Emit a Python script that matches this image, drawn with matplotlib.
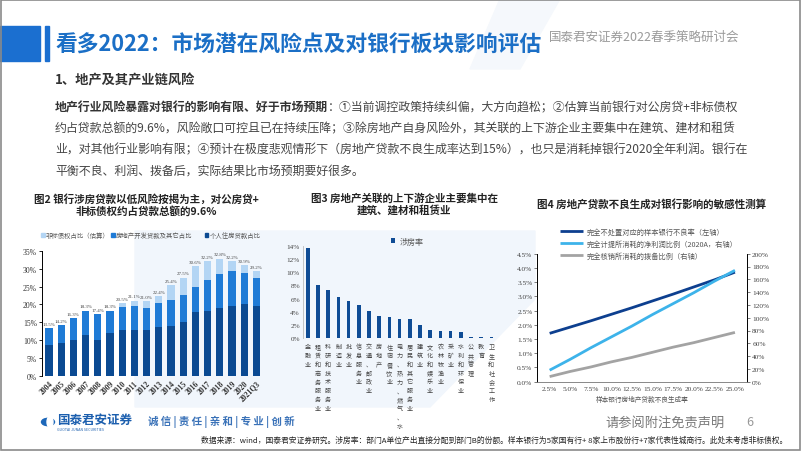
import matplotlib
matplotlib.use("Agg")
import matplotlib.pyplot as plt
from matplotlib.patches import Rectangle, Polygon, Circle, Ellipse

W, H = 802, 452

CJK = ["Noto Sans CJK SC", "DejaVu Sans"]
SERIF = ["Liberation Serif", "Noto Sans CJK SC"]
plt.rcParams["font.family"] = CJK

# ---- chart 2 data: share of bank loans linked to real estate (%)
years = ["2004", "2005", "2006", "2007", "2008", "2009", "2010", "2011", "2012",
         "2013", "2014", "2015", "2016", "2017", "2018", "2019", "2020", "2021Q3"]
personal_loans = [8.8, 9.3, 10.1, 11.5, 10.0, 12.0, 13.0, 13.0, 13.0,
                  13.6, 14.0, 15.0, 18.0, 18.3, 19.0, 19.7, 20.0, 19.7]
developer_loans = [4.7, 4.9, 6.2, 6.8, 7.4, 6.3, 6.4, 6.7, 6.1,
                   6.7, 7.3, 7.5, 7.0, 8.5, 9.5, 9.5, 8.8, 7.7]
nonstandard = [0, 0, 0, 0, 0, 0, 1.1, 1.4, 1.9,
               2.1, 4.1, 5.0, 5.6, 5.4, 4.3, 3.0, 2.1, 1.8]
total_labels = ["13.5%", "14.2%", "16.3%", "18.3%", "17.4%", "18.3%", "20.5%", "21.1%", "21.0%",
                "22.4%", "25.4%", "27.5%", "30.6%", "32.2%", "32.8%", "32.2%", "30.9%", "29.2%"]

# ---- chart 3 data: 涉房率 by industry (%)
industries = ["金融业", "租赁和商务服务业", "科研和技术服务业", "制造业", "批发业", "信息服务业",
              "交通、邮政业", "房地产", "住宿餐饮业", "电力、热力、燃气、水", "居民和其它服务业",
              "建筑业", "文化和娱乐业", "农林牧渔业", "采矿业", "水利和环保业", "公共管理",
              "教育", "卫生和社会工作"]
housing_rate = [13.8, 8.0, 7.3, 6.3, 5.6, 5.0, 4.1, 3.3, 3.1, 2.8, 2.8,
                2.0, 1.2, 1.1, 1.1, 0.9, 0.1, 0.1, 0.1]

# ---- chart 4 data: sensitivity to NPL generation rate
npl_gen = ["2.5%", "5.0%", "7.5%", "10.0%", "12.5%", "15.0%", "17.5%", "20.0%", "22.5%", "25.0%"]
npl_ratio = [1.70, 1.92, 2.14, 2.37, 2.60, 2.84, 3.08, 3.33, 3.58, 3.85]
profit_used = [18, 35, 53, 70, 87, 105, 122, 139, 157, 174]
provision_used = [8, 16, 23, 31, 38, 46, 54, 61, 69, 77]


def fx(x):
    return x / W


def fy(y):
    return 1 - y / H


def axes_px(left, top, right, bottom):
    return fig.add_axes([fx(left), fy(bottom), (right - left) / W, (bottom - top) / H])


fig = plt.figure(figsize=(W / 100, H / 100), dpi=100)

# background decoration
fig.patches.append(Polygon([(fx(135), fy(232)), (fx(535), fy(232)), (fx(535), fy(300)),
                            (fx(430), fy(408)), (fx(135), fy(408))],
                           closed=True, transform=fig.transFigure, color="#f1f6fc", zorder=-5))
fig.patches.append(Polygon([(fx(500), fy(0)), (fx(560), fy(0)), (fx(520), fy(70)), (fx(470), fy(70))],
                           closed=True, transform=fig.transFigure, color="#f5f8fc", zorder=-5))
fig.patches.append(Rectangle((0.001, 0.002), 0.997, 0.995, transform=fig.transFigure,
                             fill=False, edgecolor="#8a8a8a", lw=1.2, zorder=10))

# title block
fig.patches.append(Rectangle((fx(0), fy(62)), fx(40), 35 / H, transform=fig.transFigure,
                             color="#1b6fd0", zorder=2))
fig.patches.append(Rectangle((fx(45), fy(62)), fx(4), 35 / H, transform=fig.transFigure,
                             color="#1b6fd0", zorder=2))
fig.text(fx(55), fy(45), "看多2022：市场潜在风险点及对银行板块影响评估", fontsize=15.7,
         fontweight="bold", color="#1b6fc6", va="center", ha="left")
fig.text(fx(549), fy(37), "国泰君安证券2022春季策略研讨会", fontsize=9,
         color="#9a9a9a", va="center", ha="left")
fig.text(fx(55), fy(80), "1、地产及其产业链风险", fontsize=9.5, fontweight="bold",
         color="#333333", va="center", ha="left")

# body paragraph
body_color = "#454545"
bold_part = fig.text(fx(55), fy(108), "地产行业风险暴露对银行的影响有限、好于市场预期",
                     fontsize=8.6, fontweight="bold", color="#333333", va="center", ha="left")
fig.canvas.draw()
bold_end = bold_part.get_window_extent().x1
fig.text(bold_end / W, fy(108), "：①当前调控政策持续纠偏，大方向趋松；②估算当前银行对公房贷+非标债权",
         fontsize=8.6, color=body_color, va="center", ha="left")
body_lines = [
    "约占贷款总额的9.6%，风险敞口可控且已在持续压降；③除房地产自身风险外，其关联的上下游企业主要集中在建筑、建材和租赁",
    "业，对其他行业影响有限；④预计在极度悲观情形下（房地产贷款不良生成率达到15%），也只是消耗掉银行2020全年利润。银行在",
    "平衡不良、利润、拨备后，实际结果比市场预期要好很多。",
]
for i, line in enumerate(body_lines):
    fig.text(fx(55), fy(129 + 21 * i), line, fontsize=8.6, color=body_color,
             va="center", ha="left")

# ================= chart 2
fig.text(fx(146), fy(205), "图2 银行涉房贷款以低风险按揭为主，对公房贷+\n非标债权约占贷款总额的9.6%",
         fontsize=7.6, fontweight="bold", color="#222222", ha="center", va="center",
         linespacing=1.15)

ax2 = axes_px(41.7, 251.6, 262.5, 377.3)
x2 = list(range(len(years)))
c_dark, c_mid, c_light = "#0b4a92", "#1f7bd6", "#b3d5f4"
ax2.bar(x2, personal_loans, width=0.6, color=c_dark)
ax2.bar(x2, developer_loans, width=0.6, bottom=personal_loans, color=c_mid)
mid_top = [a + b for a, b in zip(personal_loans, developer_loans)]
ax2.bar(x2, nonstandard, width=0.6, bottom=mid_top, color=c_light)
for i, lab in enumerate(total_labels):
    ax2.text(i, mid_top[i] + nonstandard[i] + 0.6, lab, ha="center", va="bottom",
             fontsize=3.6, family=SERIF, color="#444444")
ax2.set_xlim(-0.6, 17.5)
ax2.set_ylim(0, 35)
ax2.set_yticks(range(0, 36, 5))
ax2.set_yticklabels([f"{v}%" for v in range(0, 36, 5)], family=SERIF, fontsize=5.5, color="#333333")
ax2.set_xticks(x2)
ax2.set_xticklabels(years, rotation=45, ha="right", rotation_mode="anchor",
                    family=SERIF, fontsize=5.5, fontweight="bold", color="#333333")
ax2.tick_params(axis="x", length=0, pad=2)
ax2.tick_params(axis="y", length=2, width=0.6, pad=1.5)
for s in ["top", "right", "bottom"]:
    ax2.spines[s].set_visible(False)
ax2.spines["left"].set_linewidth(0.7)
ax2.patch.set_alpha(0)

legend2 = [(c_light, "非标债权占比（估算）"), (c_mid, "房地产开发贷款及其它占比"),
           (c_dark, "个人住房贷款占比")]
lx = [41, 111, 205]
for (col, lab), x in zip(legend2, lx):
    fig.patches.append(Rectangle((fx(x), fy(237.5)), 3.5 / W, 3.5 / H,
                                 transform=fig.transFigure, color=col))
    fig.text(fx(x + 5), fy(235.8), lab, fontsize=4.6, color="#555555", va="center", ha="left")

# ================= chart 3
fig.text(fx(404), fy(205), "图3 房地产关联的上下游企业主要集中在\n建筑、建材和租赁业",
         fontsize=7.6, fontweight="bold", color="#222222", ha="center", va="center",
         linespacing=1.15)
ax3 = axes_px(302.7, 247.3, 496.5, 338.7)
x3 = list(range(len(industries)))
ax3.bar(x3, housing_rate, width=0.35, color="#0f4c95", label="涉房率")
ax3.set_xlim(-0.5, 18.5)
ax3.set_ylim(0, 14)
ax3.set_yticks(range(0, 15, 2))
ax3.set_yticklabels([f"{v}%" for v in range(0, 15, 2)], family=SERIF, fontsize=5.2, color="#444444")
ax3.set_xticks(x3)
ax3.set_xticklabels(["\n".join(s) for s in industries], fontsize=4.4, color="#444444",
                    va="top", linespacing=1.15)
ax3.tick_params(axis="x", length=0, pad=3)
ax3.tick_params(axis="y", length=0, pad=2)
for s in ["top", "right", "bottom"]:
    ax3.spines[s].set_visible(False)
ax3.spines["left"].set_color("#bbbbbb")
ax3.spines["left"].set_linewidth(0.6)
ax3.patch.set_alpha(0)
ax3.legend(loc="center", bbox_to_anchor=(fx(407), fy(242)), bbox_transform=fig.transFigure,
           frameon=False, fontsize=5.8, handlelength=0.6, handleheight=0.6, handletextpad=0.5,
           labelcolor="#555555")

# ================= chart 4
fig.text(fx(537), fy(204), "图4 房地产贷款不良生成对银行影响的敏感性测算",
         fontsize=7.6, fontweight="bold", color="#222222", ha="left", va="center")
ax4 = axes_px(537.3, 254.7, 747.3, 382.7)
x4 = list(range(len(npl_gen)))
l1, = ax4.plot(x4, npl_ratio, color="#0d3f8f", lw=2.0, solid_capstyle="butt")
ax4r = ax4.twinx()
l2, = ax4r.plot(x4, profit_used, color="#3db3ea", lw=2.0, solid_capstyle="butt")
l3, = ax4r.plot(x4, provision_used, color="#a3a3a3", lw=2.0, solid_capstyle="butt")
ax4.set_xlim(-0.6, 9.6)
ax4.set_ylim(0, 4.5)
ax4r.set_ylim(0, 200)
ax4.set_yticks([i * 0.5 for i in range(10)])
ax4.set_yticklabels([f"{i * 0.5:.1f}%" for i in range(10)], family=SERIF, fontsize=5.3,
                    color="#444444")
ax4r.set_yticks(range(0, 201, 20))
ax4r.set_yticklabels([f"{v}%" for v in range(0, 201, 20)], family=SERIF, fontsize=5.3,
                     color="#444444")
ax4.set_xticks(x4)
ax4.set_xticklabels(npl_gen, family=SERIF, fontsize=5.3, color="#444444")
ax4.set_xlabel("样本银行房地产贷款不良生成率", fontsize=4.8, color="#555555", labelpad=3)
ax4.tick_params(axis="x", length=0, pad=3)
ax4.tick_params(axis="y", length=2, width=0.6, pad=1.5, color="#666666")
ax4r.tick_params(axis="y", length=2, width=0.6, pad=1.5, color="#666666")
for a in (ax4, ax4r):
    a.spines["top"].set_visible(False)
    a.spines["left"].set_linewidth(0.6)
    a.spines["right"].set_linewidth(0.6)
    a.spines["bottom"].set_linewidth(0.6)
    a.spines["bottom"].set_color("#888888")
ax4.patch.set_alpha(0)
fig.legend([l1, l2, l3],
           ["完全不处置对应的样本银行不良率（左轴）", "完全计提所消耗的净利润比例（2020A，右轴）",
            "完全核销所消耗的拨备比例（右轴）"],
           loc="upper left", bbox_to_anchor=(fx(553), fy(222)), frameon=False,
           fontsize=5.2, handlelength=3.2, handletextpad=0.6, labelspacing=0.55,
           labelcolor="#555555")

# ================= footer
fig.patches.append(Circle((fx(48), fy(423)), 6.5 / W, transform=fig.transFigure,
                          color="#1c67b9", zorder=3))
fig.patches.append(Ellipse((fx(50), fy(423)), 6 / W, 11 / H, transform=fig.transFigure,
                           color="white", zorder=4))
fig.text(fx(57), fy(420), "国泰君安证券", fontsize=9, fontweight="bold", color="#1c5fae",
         va="center", ha="left")
fig.text(fx(57), fy(430), "GUOTAI JUNAN SECURITIES", fontsize=2.6, color="#1c5fae",
         va="center", ha="left")
fig.text(fx(148), fy(422), "诚 信 | 责 任 | 亲 和 | 专 业 | 创 新", fontsize=7.5,
         fontweight="bold", color="#3a72b8", va="center", ha="left")
fig.text(fx(605), fy(423), "请参阅附注免责声明", fontsize=9.5, color="#777777",
         va="center", ha="left")
fig.text(fx(746), fy(423), "6", fontsize=9, color="#999999", va="center", ha="left")
fig.text(fx(201), fy(441),
         "数据来源：wind，国泰君安证券研究。涉房率：部门A单位产出直接分配到部门B的份额。"
         "样本银行为5家国有行+ 8家上市股份行+7家代表性城商行。此处未考虑非标债权。",
         fontsize=5.6, color="#222222", va="center", ha="left")

fig.savefig("out.png", dpi=100)
